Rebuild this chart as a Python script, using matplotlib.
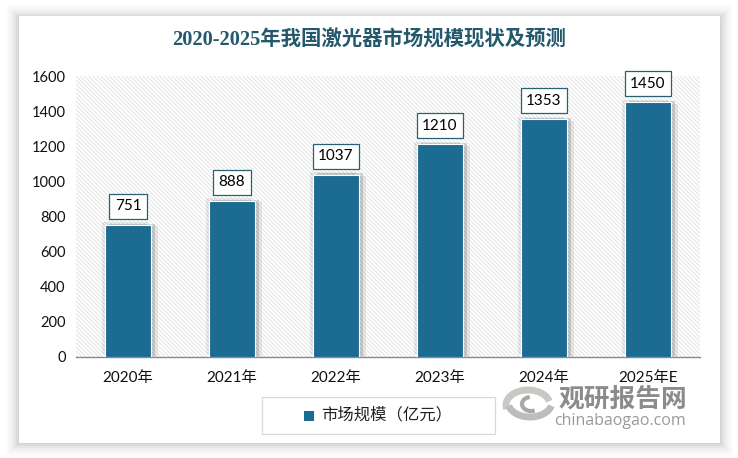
import matplotlib
matplotlib.use("Agg")
import matplotlib.pyplot as plt
import matplotlib.patheffects as pe
from matplotlib.patches import Rectangle, Arc

plt.rcParams['font.family'] = ['Lato', 'Noto Sans CJK SC', 'DejaVu Sans']
plt.rcParams['hatch.linewidth'] = 0.5

years = ["2020年", "2021年", "2022年", "2023年", "2024年", "2025年E"]
market_size = [751, 888, 1037, 1210, 1353, 1450]
y_ticks = [0, 200, 400, 600, 800, 1000, 1200, 1400, 1600]

W, H = 738, 458
BAR_COLOR = "#1b6b92"
DARK = "#2a6172"


def px_rect(x0, y0, x1, y1):
    # pixel box measured from the top left -> figure fractions
    return [x0 / W, 1 - y1 / H, (x1 - x0) / W, (y1 - y0) / H]


fig = plt.figure(figsize=(W / 100, H / 100), dpi=100, facecolor="white")

# soft shadow behind the white card
for grow, alpha in [(13, 0.012), (11, 0.015), (9, 0.02), (7, 0.025), (5, 0.03), (3, 0.035), (1, 0.04)]:
    l, b, w, h = px_rect(19 - grow, 16 - grow + 2, 720 + grow, 443 + grow)
    fig.add_artist(Rectangle((l, b), w, h, transform=fig.transFigure,
                             fc="black", ec="none", alpha=alpha, zorder=0))
l, b, w, h = px_rect(19, 16, 720, 443)
fig.add_artist(Rectangle((l, b), w, h, transform=fig.transFigure,
                         fc="white", ec="none", zorder=0.5))

ax = fig.add_axes(px_rect(76, 76, 700, 357), zorder=1)
ax.set_facecolor("white")
ax.add_patch(Rectangle((0, 0), 1, 1, transform=ax.transAxes, fc="white",
                       ec="#dadada", lw=0, hatch="\\" * 8, zorder=0))

x = list(range(len(years)))
bars = ax.bar(x, market_size, width=0.44, color=BAR_COLOR, edgecolor="white",
              linewidth=0.8, zorder=3)
for bar in bars:
    bar.set_path_effects([
        pe.SimplePatchShadow(offset=(5, -1), shadow_rgbFace="black", alpha=0.08),
        pe.SimplePatchShadow(offset=(3, 1), shadow_rgbFace="black", alpha=0.14),
        pe.SimplePatchShadow(offset=(-2, 2), shadow_rgbFace="black", alpha=0.08),
        pe.Normal(),
    ])

for xi, value in zip(x, market_size):
    ax.annotate(str(value), (xi, value), xytext=(0, 13.5), textcoords="offset points",
                ha="center", va="center", fontsize=11, color="black", zorder=5,
                annotation_clip=False,
                bbox=dict(boxstyle="square,pad=0.36", fc="white", ec=DARK, lw=0.9))

ax.set_xlim(-0.5, 5.5)
ax.set_ylim(0, 1600)
ax.set_xticks(x)
ax.set_xticklabels(years)
ax.set_yticks(y_ticks)
ax.tick_params(axis="both", length=0, labelsize=10.5, labelcolor="#111111")
ax.tick_params(axis="x", labelsize=11, pad=10)
ax.tick_params(axis="y", pad=7.5)
for side in ["top", "right", "left"]:
    ax.spines[side].set_visible(False)
ax.spines["bottom"].set_color("#8a8a8a")
ax.spines["bottom"].set_linewidth(1)

fig.text(369 / W, 1 - 40 / H, "2020-2025年我国激光器市场规模现状及预测",
         ha="center", va="center", fontsize=14.7, color="#24586c", fontweight="bold",
         family=["Liberation Serif", "Noto Sans CJK SC"], zorder=3)

# legend box
l, b, w, h = px_rect(262, 397, 495, 434)
fig.add_artist(Rectangle((l, b), w, h, transform=fig.transFigure,
                         fc="white", ec="#d9d9d9", lw=0.9, zorder=2))
l, b, w, h = px_rect(304, 411, 314, 421)
fig.add_artist(Rectangle((l, b), w, h, transform=fig.transFigure,
                         fc=BAR_COLOR, ec="none", zorder=3))
fig.text(321 / W, 1 - 415 / H, "市场规模（亿元）", ha="left", va="center",
         fontsize=11.8, color="#222222", zorder=3)

# watermark
wm_ax = fig.add_axes(px_rect(0, 0, W, H), zorder=10)
wm_ax.set_axis_off()
wm_ax.set_xlim(0, W)
wm_ax.set_ylim(H, 0)
wm_ax.text(623, 398, "观研报告网", ha="center", va="center", fontsize=18.5,
           fontweight="black", color="#7f7f7f", alpha=0.9)
wm_ax.text(620, 421, "chinabaogao.com", ha="center", va="center", fontsize=11.5,
           color="#9a9a9a", family=["Open Sans", "DejaVu Sans"])
# swirl logo
wm_ax.add_patch(Arc((528, 405), 44, 30, theta1=-10, theta2=170, lw=5, color="#c9c9c4", angle=180))
wm_ax.add_patch(Arc((530, 402), 44, 30, theta1=190, theta2=350, lw=5, color="#bdbdbd", angle=180))
wm_ax.add_patch(Arc((531, 404), 18, 14, theta1=60, theta2=260, lw=3, color="#a8a8a8"))

fig.savefig("out.png", dpi=100)
